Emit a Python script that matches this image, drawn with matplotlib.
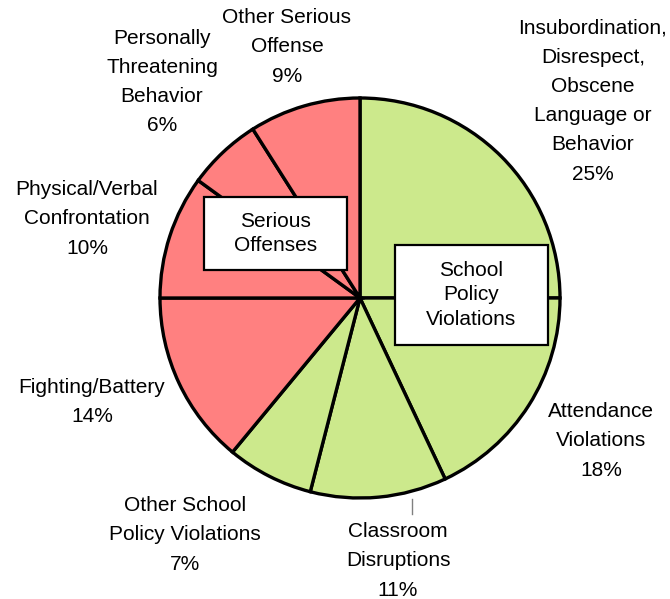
import matplotlib.pyplot as plt
from matplotlib.patches import Rectangle

plt.rcParams['font.family'] = ['Liberation Sans', 'DejaVu Sans']

# slices, clockwise from 12 o'clock
labels = ['Insubordination,\nDisrespect,\nObscene\nLanguage or\nBehavior',
          'Attendance\nViolations',
          'Classroom\nDisruptions',
          'Other School\nPolicy Violations',
          'Fighting/Battery',
          'Physical/Verbal\nConfrontation',
          'Personally\nThreatening\nBehavior',
          'Other Serious\nOffense']
values = [25, 18, 11, 7, 14, 10, 6, 9]
groups = ['school', 'school', 'school', 'school',
          'serious', 'serious', 'serious', 'serious']

group_colors = {'school': '#cce98c', 'serious': '#ff8080'}

# label centres in pixels (image coords)
label_pos = [(593, 101), (601, 441), (398, 561), (185, 535),
             (92, 402), (87, 219), (162, 82), (287, 47)]

W, H = 670, 599
cx, cy, r = 360, 298, 200

fig = plt.figure(figsize=(W / 100, H / 100), dpi=100)
ax = fig.add_axes([(cx - r) / W, (H - cy - r) / H, 2 * r / W, 2 * r / H])


def px(x, y):
    return (x - cx) / r, (cy - y) / r


ax.pie(values, colors=[group_colors[g] for g in groups], startangle=90,
       counterclock=False, radius=1,
       wedgeprops=dict(edgecolor='black', linewidth=2.4))
ax.set_xlim(-1, 1)
ax.set_ylim(-1, 1)
ax.axis('off')

for lab, v, (x, y) in zip(labels, values, label_pos):
    tx, ty = px(x, y)
    ax.text(tx, ty, f'{lab}\n{v}%', ha='center', va='center', fontsize=15,
            linespacing=1.68, clip_on=False)

# leader line for classroom disruptions
x0, y0 = px(412, 499)
x1, y1 = px(412, 514)
ax.plot([x0, x1], [y0, y1], color='gray', lw=1, clip_on=False)

# group boxes
boxes = [('Serious\nOffenses', 204, 197, 347, 270),
         ('School\nPolicy\nViolations', 395, 245, 548, 345)]
for txt, l, t, rr, b in boxes:
    x0, y0 = px(l, b)
    x1, y1 = px(rr, t)
    ax.add_patch(Rectangle((x0, y0), x1 - x0, y1 - y0, facecolor='white',
                           edgecolor='black', lw=1.6, zorder=5))
    ax.text((x0 + x1) / 2, (y0 + y1) / 2, txt, ha='center', va='center',
            fontsize=15, linespacing=1.38, zorder=6)

fig.savefig('out.png', dpi=100)
